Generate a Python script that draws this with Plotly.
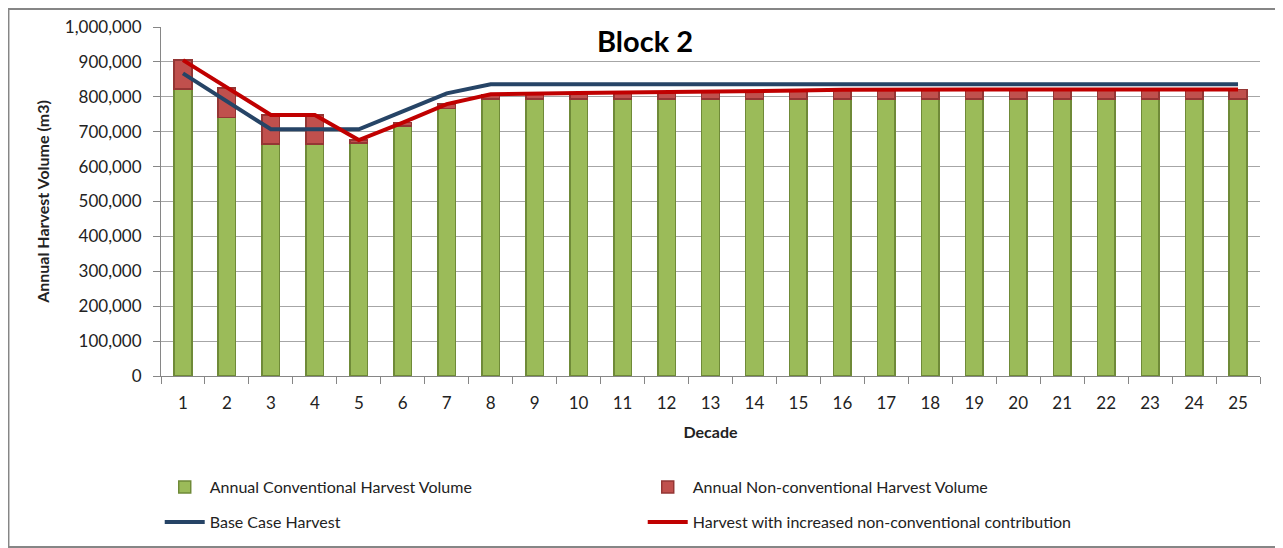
import plotly.graph_objects as go

# decades on the x axis
decades = [str(d) for d in range(1, 26)]

# annual conventional harvest volume (m3)
conventional = [822000, 740000, 665000, 665000, 668000, 716000, 766000, 793000, 794000,
                794000, 794000, 794000, 794000, 794000, 794000, 794000, 794000, 794000,
                794000, 794000, 794000, 794000, 794000, 794000, 794000]

# annual non-conventional harvest volume (m3), stacked on top
non_conventional = [83000, 85000, 83000, 83000, 8000, 10000, 13000, 14000, 16000,
                    17000, 18000, 19000, 21000, 22000, 24000, 26000, 27000, 27000,
                    27000, 27000, 27000, 27000, 27000, 27000, 27000]

# base case harvest line
base_case = [867000, 786000, 707000, 707000, 707000, 758000, 810000, 836000, 836000,
             836000, 836000, 836000, 836000, 836000, 836000, 836000, 836000, 836000,
             836000, 836000, 836000, 836000, 836000, 836000, 836000]

# harvest with increased non-conventional contribution
increased = [905000, 825000, 748000, 748000, 676000, 726000, 779000, 807000, 810000,
             811000, 812000, 813000, 815000, 816000, 818000, 820000, 821000, 821000,
             821000, 821000, 821000, 821000, 821000, 821000, 821000]

font_family = "Lato, 'Open Sans', sans-serif"

fig = go.Figure()

# stacked bars
fig.add_trace(go.Bar(x=decades, y=conventional, name='Annual Conventional Harvest Volume',
                     marker=dict(color='#9BBB59', line=dict(color='#6F8A38', width=1.5)),
                     legend='legend'))
fig.add_trace(go.Bar(x=decades, y=non_conventional, name='Annual Non-conventional Harvest Volume',
                     marker=dict(color='#C0504D', line=dict(color='#943634', width=1.5)),
                     legend='legend'))

# harvest lines
fig.add_trace(go.Scatter(x=decades, y=base_case, mode='lines', name='Base Case Harvest',
                         line=dict(color='#264466', width=4), legend='legend2'))
fig.add_trace(go.Scatter(x=decades, y=increased, mode='lines',
                         name='Harvest with increased non-conventional contribution',
                         line=dict(color='#C00000', width=4), legend='legend2'))

# legends placed in container coords so they don't push the margins
legend_style = dict(orientation='h', xref='container', yref='container',
                    x=0.119, xanchor='left', yanchor='middle', itemwidth=40,
                    entrywidth=428, entrywidthmode='pixels', traceorder='normal',
                    font=dict(family=font_family, size=16, color='#222222'),
                    bgcolor='rgba(0,0,0,0)')

# page body has an 8px margin, so the figure is a bit smaller than the window
fig.update_layout(
    barmode='stack', bargap=0.6,
    width=1275, height=540,
    margin=dict(l=153, r=23, t=19, b=172),
    paper_bgcolor='white', plot_bgcolor='white',
    font=dict(family=font_family, size=17, color='#222222'),
    legend=dict(legend_style, y=0.113),
    legend2=dict(legend_style, y=0.048),
    xaxis=dict(title=dict(text='<b>Decade</b>', font=dict(size=16), standoff=14),
               showline=True, linecolor='#868686', linewidth=1,
               ticks='outside', tickson='boundaries', ticklen=7, tickcolor='#868686',
               ticklabelstandoff=12,
               range=[-0.5, 24.5], showgrid=False, automargin=False),
    yaxis=dict(title=dict(text='<b>Annual Harvest Volume (m3)</b>', font=dict(size=16), standoff=11),
               range=[0, 1000000], dtick=100000, tickformat=',d',
               showline=True, linecolor='#868686', linewidth=1,
               ticks='outside', ticklen=7, tickcolor='#868686', ticklabelstandoff=8,
               gridcolor='#A6A6A6', gridwidth=1, zeroline=False, automargin=False),
    annotations=[dict(text='<b>Block 2</b>', x=0.4404, y=0.96, xref='paper', yref='paper',
                      xanchor='center', yanchor='middle',
                      showarrow=False, font=dict(size=29, color='black'))],
    shapes=[dict(type='rect', xref='paper', yref='paper', x0=-0.1388, x1=1.0191,
                 y0=-0.49, y1=1.0516, line=dict(color='#868686', width=2))],
)

fig.write_html("out.html")
